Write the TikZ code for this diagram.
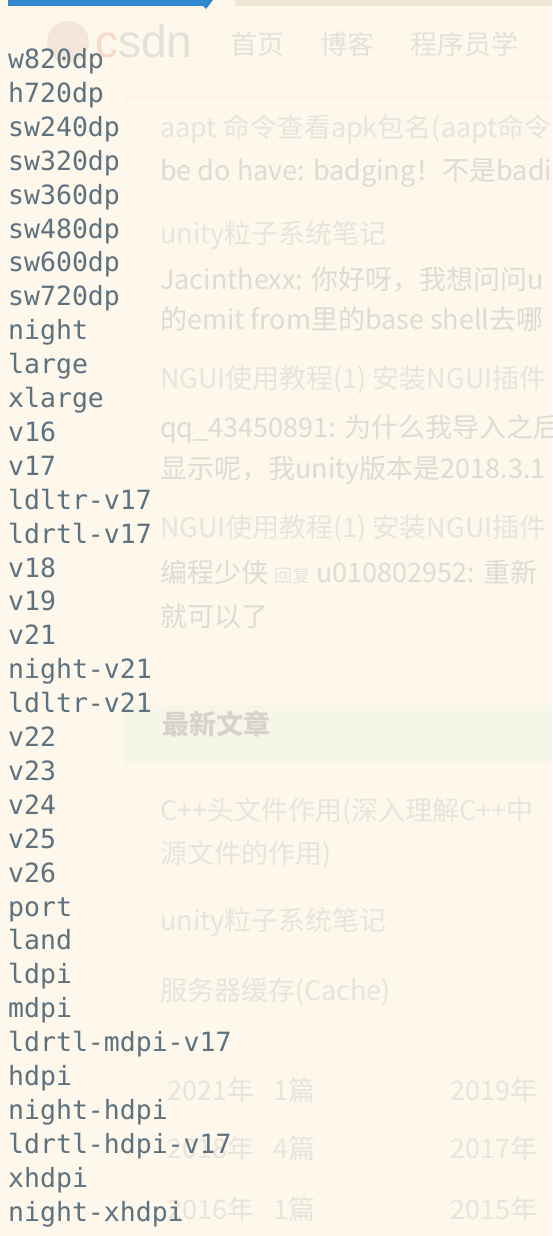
\documentclass[tikz,border=0pt]{standalone}
\usepackage{fontspec}
\usetikzlibrary{positioning}
\newfontfamily\qualfont{DejaVu Sans Mono}
\newfontfamily\cjk{Noto Sans CJK SC}
\newfontfamily\logofont{Liberation Sans}
\definecolor{pagecream}{RGB}{253,247,236}
\definecolor{qualgray}{RGB}{93,114,126}
\definecolor{titlegray}{RGB}{233,228,219}
\definecolor{notegray}{RGB}{224,219,210}
\definecolor{headgray}{RGB}{216,211,202}
\definecolor{navgray}{RGB}{230,225,216}
\definecolor{barblue}{RGB}{47,136,206}
\definecolor{barbeige}{RGB}{237,231,214}
\definecolor{logopink}{RGB}{245,230,219}
\definecolor{logored}{RGB}{249,216,201}
\definecolor{bandgreen}{RGB}{245,246,232}
\definecolor{edgecream}{RGB}{246,240,229}

\begin{document}
\begin{tikzpicture}[x=1pt,y=-1pt,node distance=33.9pt,on grid,
    qual/.style={font={\qualfont\fontsize{26.5}{30}\selectfont},text=qualgray,inner sep=0pt,anchor=base west},
    bgtext/.style={font={\cjk\fontsize{27}{32}\selectfont},inner sep=0pt,anchor=west,text height=0.76em,text depth=0pt,yshift=-7pt},
    bgtitle/.style={bgtext,text=titlegray},
    bgnote/.style={bgtext,text=notegray}]
  \useasboundingbox (0,0) rectangle (552,1236);
  \clip (0,0) rectangle (552,1236);
  \fill[pagecream] (0,0) rectangle (552,1236);

  % blurred page behind
  \fill[barblue] (8,0) -- (213,0) -- (206,9) -- (203,6) -- (8,6) -- cycle;
  \fill[barbeige] (235,0) rectangle (552,6);
  \fill[logopink] (68,42) circle (21);
  \node[inner sep=0pt,anchor=base west,text=navgray,font={\logofont\fontsize{46}{50}\selectfont}] (logo) at (95,58) {{\color{logored}c}sdn};
  \node[bgtext,text=navgray] (home) at (230,44) {首页};
  \node[bgtext,text=navgray] (blog) at (320,44) {博客};
  \node[bgtext,text=navgray] (school) at (410,44) {程序员学};
  \draw[edgecream] (125,1236) -- (125,97) -- (552,97);

  \node[bgtitle] (c1title) at (160,127) {aapt 命令查看apk包名(aapt命令};
  \node[bgnote] (c1note) at (160,170) {be do have: badging！不是badi};
  \node[bgtitle] (c2title) at (160,233) {unity粒子系统笔记};
  \node[bgnote] (c2note) at (160,279) {Jacinthexx: 你好呀，我想问问u};
  \node[bgnote] (c2more) at (160,319) {的emit from里的base shell去哪};
  \node[bgtitle] (c3title) at (160,378) {NGUI使用教程(1) 安装NGUI插件};
  \node[bgnote] (c3note) at (160,427) {qq\_43450891: 为什么我导入之后};
  \node[bgnote] (c3more) at (160,468) {显示呢，我unity版本是2018.3.1};
  \node[bgtitle] (c4title) at (160,527) {NGUI使用教程(1) 安装NGUI插件};
  \node[bgnote] (c4note) at (160,572) {编程少侠 {\fontsize{18}{20}\selectfont\color{titlegray}回复} u010802952: 重新};
  \node[bgnote] (c4more) at (160,616) {就可以了};

  \fill[bandgreen] (125,705) rectangle (552,762);
  \node[bgtext,text=headgray,font={\cjk\bfseries\fontsize{27}{32}\selectfont}] (latest) at (162,724) {最新文章};
  \node[bgtitle] (a1) at (160,810) {C++头文件作用(深入理解C++中};
  \node[bgtitle] (a1more) at (160,853) {源文件的作用)};
  \node[bgtitle] (a2) at (160,920) {unity粒子系统笔记};
  \node[bgtitle] (a3) at (160,990) {服务器缓存(Cache)};

  \node[bgtitle] (y2021) at (167,1090) {2021年};
  \node[bgtitle] (n2021) at (273,1090) {1篇};
  \node[bgtitle] (y2019) at (450,1090) {2019年};
  \node[bgtitle] (y2018) at (167,1148) {2018年};
  \node[bgtitle] (n2018) at (273,1148) {4篇};
  \node[bgtitle] (y2017) at (450,1148) {2017年};
  \node[bgtitle] (y2016) at (167,1209) {2016年};
  \node[bgtitle] (n2016) at (273,1209) {1篇};
  \node[bgtitle] (y2015) at (450,1209) {2015年};

  % qualifier list
  \node[qual] (w820dp) at (8,68.5) {w820dp};
  \node[below=of w820dp.base west,qual] (h720dp) {h720dp};
  \node[below=of h720dp.base west,qual] (sw240dp) {sw240dp};
  \node[below=of sw240dp.base west,qual] (sw320dp) {sw320dp};
  \node[below=of sw320dp.base west,qual] (sw360dp) {sw360dp};
  \node[below=of sw360dp.base west,qual] (sw480dp) {sw480dp};
  \node[below=of sw480dp.base west,qual] (sw600dp) {sw600dp};
  \node[below=of sw600dp.base west,qual] (sw720dp) {sw720dp};
  \node[below=of sw720dp.base west,qual] (night) {night};
  \node[below=of night.base west,qual] (large) {large};
  \node[below=of large.base west,qual] (xlarge) {xlarge};
  \node[below=of xlarge.base west,qual] (v16) {v16};
  \node[below=of v16.base west,qual] (v17) {v17};
  \node[below=of v17.base west,qual] (ldltr-v17) {ldltr-v17};
  \node[below=of ldltr-v17.base west,qual] (ldrtl-v17) {ldrtl-v17};
  \node[below=of ldrtl-v17.base west,qual] (v18) {v18};
  \node[below=of v18.base west,qual] (v19) {v19};
  \node[below=of v19.base west,qual] (v21) {v21};
  \node[below=of v21.base west,qual] (night-v21) {night-v21};
  \node[below=of night-v21.base west,qual] (ldltr-v21) {ldltr-v21};
  \node[below=of ldltr-v21.base west,qual] (v22) {v22};
  \node[below=of v22.base west,qual] (v23) {v23};
  \node[below=of v23.base west,qual] (v24) {v24};
  \node[below=of v24.base west,qual] (v25) {v25};
  \node[below=of v25.base west,qual] (v26) {v26};
  \node[below=of v26.base west,qual] (port) {port};
  \node[below=of port.base west,qual] (land) {land};
  \node[below=of land.base west,qual] (ldpi) {ldpi};
  \node[below=of ldpi.base west,qual] (mdpi) {mdpi};
  \node[below=of mdpi.base west,qual] (ldrtl-mdpi-v17) {ldrtl-mdpi-v17};
  \node[below=of ldrtl-mdpi-v17.base west,qual] (hdpi) {hdpi};
  \node[below=of hdpi.base west,qual] (night-hdpi) {night-hdpi};
  \node[below=of night-hdpi.base west,qual] (ldrtl-hdpi-v17) {ldrtl-hdpi-v17};
  \node[below=of ldrtl-hdpi-v17.base west,qual] (xhdpi) {xhdpi};
  \node[below=of xhdpi.base west,qual] (night-xhdpi) {night-xhdpi};
\end{tikzpicture}
\end{document}
